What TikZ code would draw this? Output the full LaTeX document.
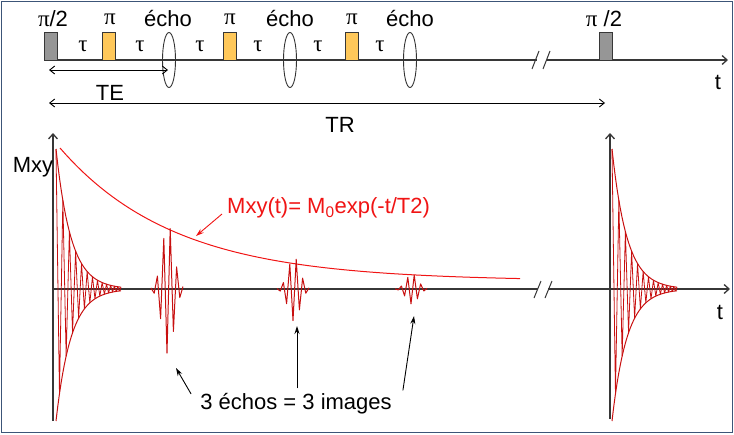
\documentclass[tikz,border=0pt]{standalone}
\usepackage{fontspec}
\setmainfont{Liberation Sans}
\newfontfamily\grk{Liberation Serif}
\usetikzlibrary{arrows.meta,shapes.geometric,positioning}
\definecolor{sigred}{RGB}{200,16,16}
\definecolor{lawred}{RGB}{240,20,20}
\definecolor{axgray}{RGB}{55,55,55}
\definecolor{pulsegray}{RGB}{150,150,150}
\definecolor{pulseorange}{RGB}{255,200,90}
\definecolor{frameblue}{RGB}{60,85,120}
\tikzset{
  ax/.style={draw=axgray,line width=1.3pt},
  axarrow/.style={ax,-{Straight Barb[length=5pt,width=9pt]}},
  span/.style={draw=black,line width=0.9pt,{Straight Barb[length=5pt,width=8pt]}-{Straight Barb[length=5pt,width=8pt]}},
  pulse/.style={draw=axgray,line width=1pt,minimum width=13pt,minimum height=28pt,inner sep=0pt,anchor=south},
  rf90/.style={pulse,fill=pulsegray},
  rf180/.style={pulse,fill=pulseorange},
  echoring/.style={ellipse,draw=black!80,line width=0.9pt,minimum width=13pt,minimum height=55pt,inner sep=0pt},
  lab/.style={font=\fontsize{22}{24}\selectfont,inner sep=1pt},
  glab/.style={font=\fontsize{23}{24}\selectfont\grk,inner sep=1pt},
  fid/.style={draw=sigred,line width=1pt,line join=round},
  decay/.style={draw=lawred,line width=1pt},
  pointer/.style={line width=0.9pt,-{Stealth[length=8pt,width=5pt]}}
}
% free induction decay starting at x=#1
\newcommand{\fidplot}[1]{
  \draw[fid] plot[domain=0:65,samples=40] ({#1+\x},{289-140*exp(-\x/15)});
  \draw[fid] plot[domain=0:65,samples=40] ({#1+\x},{289+132*exp(-\x/15)});
  \draw[fid,line width=0.8pt] plot[domain=0:26,samples=27] ({#1+65*\x/26*(1.4-0.4*\x/26)},{289-cos(180*\x)*(136+4*cos(180*\x))*exp(-65*\x/26*(1.4-0.4*\x/26)/15)});
}
% echo packet centred near x=#1, amplitude #2
\newcommand{\echopacket}[2]{
  \draw[fid] plot[domain=-5:5,samples=11] ({#1+3.2*(\x)},{289+cos(180*\x)*#2*exp(-(\x-0.3)*(\x-0.3)/6.76)});
}
\begin{document}
\begin{tikzpicture}[x=1pt,y=-1pt]
\useasboundingbox (0,0) rectangle (734,434);
\draw[frameblue,line width=1.5pt] (1.5,1.5) rectangle (732.5,432.5);
% sequence
\draw[ax] (44,60)--(537,60);
\draw[axarrow] (547,60)--(728,60);
\draw[ax,line width=1pt] (532,69)--(539,51) (543,69)--(550,51);
\node[lab] (tseq) at (718,82) {t};
\foreach \x/\n in {51/a,606/b}{\node[rf90] (p90\n) at (\x,61) {};}
\foreach \x/\n in {109/a,229.5/b,351.5/c}{\node[rf180] (p180\n) at (\x,61) {};}
\foreach \x/\n in {169/a,290/b,410/c}{\node[echoring] (ring\n) at (\x,60) {};}
\foreach \x/\n in {83/1,140/2,200/3,258/4,318/5,380/6}{\node[glab] (tau\n) at (\x,46) {τ};}
\foreach \x/\l/\n in {110/π/a,230/π/b,352/π/c}{\node[glab] (pi\n) at (\x,19) {\l};}
\foreach \x/\n in {168/a,290/b,410/c}{\node[lab] (echo\n) at (\x,19) {écho};}
\node[lab] (halfa) at (53,19) {{\grk\fontsize{23}{24}\selectfont π}/2};
\node[lab] (halfb) at (604,19) {{\grk\fontsize{23}{24}\selectfont π} /2};
%
\coordinate (teL) at (49,70);
\coordinate (teR) at (168,70);
\draw[span] (teL)--(teR);
\node[lab] (te) at (110,93) {TE};
\coordinate (trL) at (49,103);
\coordinate (trR) at (605,103);
\draw[span] (trL)--(trR);
\node[lab] (tr) at (340,125) {TR};
% signal
\draw[axarrow] (53,421)--(53,133);
\draw[axarrow] (610,419)--(610,133);
\draw[ax] (53,289)--(538,289);
\draw[axarrow] (548,289)--(730,289);
\draw[ax,line width=1pt] (534,298)--(541,281) (545,298)--(552,281);
\node[lab] (mxy) at (33,167) {Mxy};
\node[lab] (tsig) at (720,312) {t};
\draw[decay] plot[domain=60:520,samples=80] (\x,{281-133*exp(-(\x-60)/115)});
\fidplot{56}
\fidplot{612}
\echopacket{167}{65}
\echopacket{293}{32}
\echopacket{411}{15}
%
\node[lab,text=lawred,anchor=west] (law) at (226,208) {Mxy(t)= M\textsubscript{0}exp(-t/T2)};
\coordinate (onlaw) at (196,236);
\draw[pointer,lawred] ([shift={(-4pt,-6pt)}]law.west)--(onlaw);
\node[lab] (echolab) at (296,404) {3 échos = 3 images};
\coordinate (tip1) at (176,368);
\coordinate (tip2) at (297,326);
\coordinate (tip3) at (414,316);
\draw[pointer] ([shift={(-8pt,10pt)}]echolab.west)--(tip1);
\draw[pointer] ([shift={(1pt,4pt)}]echolab.north)--(tip2);
\draw[pointer] ([shift={(10pt,2pt)}]echolab.north east)--(tip3);
\end{tikzpicture}
\end{document}
